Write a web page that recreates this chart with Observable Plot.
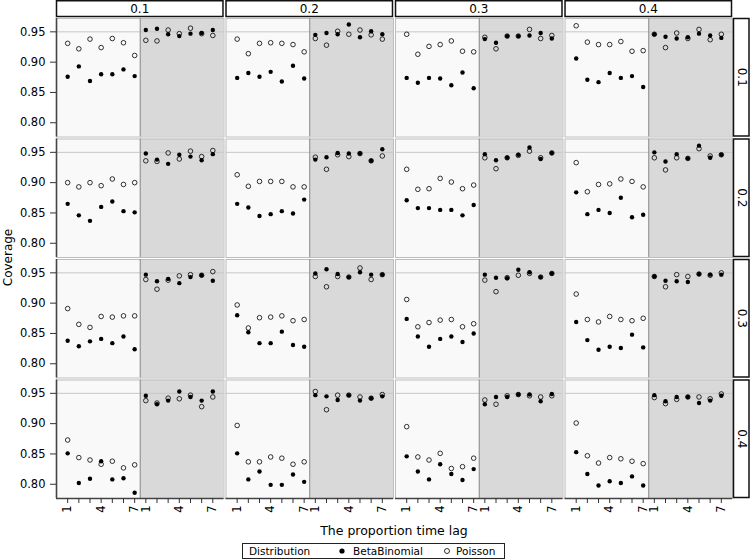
<!DOCTYPE html>
<html><head><meta charset="utf-8">
<script src="https://cdn.jsdelivr.net/npm/d3@7"></script>
<script src="https://cdn.jsdelivr.net/npm/@observablehq/plot@0.6"></script>
<style>
body{margin:0;background:#fff;font-family:"DejaVu Sans",sans-serif;}
#wrap{position:relative;width:750px;height:560px;}
#legend{position:absolute;left:242px;top:543px;width:263px;height:16px;box-sizing:border-box;border:1px solid #222;font-size:10.5px;white-space:nowrap;}
#legend span{position:absolute;top:0;line-height:14px;}
</style></head><body><div id="wrap"></div>
<script>
const lags = [1,2,3,4,5,6,7];
const colLevels = ["0.1","0.2","0.3","0.4"];
const rowLevels = ["0.1","0.2","0.3","0.4"];
const periods = ["first","second"];
const seriesNames = ["BetaBinomial","Poisson"];
const yTicks = [0.80,0.85,0.90,0.95];
const xTickLabels = ["1","","","4","","","7","1","","","4","","","7"];
const reference = 0.95;

// each row array: [col0.1 first, col0.1 second, col0.2 first, col0.2 second, ...]
const bbRow1 = [
 [0.876,0.893,0.869,0.880,0.880,0.888,0.877],[0.953,0.955,0.946,0.943,0.947,0.948,0.953],
 [0.874,0.882,0.876,0.884,0.868,0.894,0.873],[0.945,0.948,0.946,0.962,0.941,0.951,0.946],
 [0.874,0.866,0.874,0.873,0.862,0.883,0.857],[0.938,0.932,0.943,0.943,0.944,0.948,0.939],
 [0.906,0.871,0.867,0.882,0.874,0.877,0.859],[0.946,0.942,0.939,0.941,0.947,0.944,0.940]
];
const poRow1 = [
 [0.931,0.922,0.938,0.924,0.939,0.932,0.911],[0.936,0.935,0.953,0.947,0.956,0.947,0.944],
 [0.938,0.914,0.931,0.932,0.931,0.929,0.917],[0.939,0.928,0.951,0.946,0.953,0.945,0.938],
 [0.946,0.913,0.926,0.929,0.935,0.918,0.917],[0.941,0.922,0.943,0.943,0.954,0.939,0.944],
 [0.960,0.933,0.929,0.929,0.934,0.918,0.919],[0.946,0.924,0.948,0.939,0.954,0.937,0.946]
];
const bbRow2 = [
 [0.865,0.846,0.837,0.860,0.869,0.853,0.851],[0.948,0.938,0.931,0.946,0.943,0.937,0.947],
 [0.865,0.859,0.845,0.848,0.853,0.849,0.872],[0.938,0.942,0.949,0.948,0.948,0.936,0.955],
 [0.871,0.858,0.858,0.855,0.855,0.846,0.863],[0.947,0.937,0.941,0.946,0.958,0.939,0.949],
 [0.884,0.848,0.855,0.850,0.875,0.843,0.847],[0.950,0.935,0.947,0.940,0.961,0.941,0.946]
];
const poRow2 = [
 [0.900,0.893,0.900,0.895,0.906,0.897,0.900],[0.936,0.935,0.949,0.939,0.952,0.943,0.953],
 [0.913,0.894,0.902,0.902,0.902,0.893,0.893],[0.942,0.922,0.946,0.943,0.948,0.936,0.944],
 [0.922,0.889,0.890,0.907,0.901,0.890,0.896],[0.941,0.923,0.941,0.945,0.952,0.941,0.949],
 [0.933,0.885,0.897,0.898,0.906,0.902,0.893],[0.941,0.921,0.941,0.940,0.956,0.944,0.946]
];
const bbRow3 = [
 [0.838,0.829,0.837,0.841,0.834,0.845,0.824],[0.947,0.936,0.940,0.933,0.943,0.946,0.937],
 [0.880,0.852,0.834,0.834,0.853,0.831,0.828],[0.949,0.956,0.948,0.943,0.951,0.947,0.947],
 [0.874,0.845,0.828,0.841,0.845,0.836,0.850],[0.947,0.942,0.941,0.955,0.951,0.943,0.949],
 [0.869,0.839,0.823,0.828,0.826,0.848,0.827],[0.944,0.937,0.936,0.935,0.948,0.947,0.947]
];
const poRow3 = [
 [0.891,0.865,0.860,0.878,0.877,0.879,0.879],[0.939,0.923,0.938,0.945,0.947,0.946,0.952],
 [0.897,0.859,0.876,0.877,0.879,0.871,0.873],[0.944,0.927,0.944,0.943,0.958,0.939,0.947],
 [0.906,0.861,0.868,0.872,0.873,0.861,0.866],[0.938,0.919,0.942,0.946,0.949,0.943,0.949],
 [0.915,0.873,0.869,0.878,0.873,0.871,0.875],[0.944,0.927,0.947,0.944,0.948,0.946,0.950]
];
const bbRow4 = [
 [0.851,0.802,0.809,0.838,0.808,0.810,0.786],[0.946,0.932,0.938,0.953,0.944,0.938,0.953],
 [0.851,0.808,0.821,0.799,0.799,0.816,0.804],[0.947,0.945,0.939,0.947,0.938,0.942,0.945],
 [0.846,0.821,0.808,0.833,0.817,0.807,0.825],[0.932,0.944,0.944,0.948,0.948,0.937,0.949],
 [0.853,0.817,0.798,0.805,0.802,0.813,0.798],[0.947,0.937,0.944,0.944,0.934,0.938,0.946]
];
const poRow4 = [
 [0.873,0.844,0.840,0.833,0.838,0.827,0.832],[0.938,0.934,0.942,0.941,0.947,0.928,0.944],
 [0.897,0.837,0.837,0.845,0.843,0.833,0.837],[0.953,0.923,0.947,0.947,0.944,0.942,0.948],
 [0.895,0.845,0.840,0.851,0.826,0.829,0.843],[0.939,0.932,0.946,0.948,0.946,0.944,0.946],
 [0.901,0.847,0.835,0.844,0.842,0.838,0.834],[0.943,0.933,0.940,0.944,0.944,0.941,0.949]
];

const bbRows = [bbRow1,bbRow2,bbRow3,bbRow4];
const poRows = [poRow1,poRow2,poRow3,poRow4];
const nPos = lags.length * periods.length;
const xDomain = [0, nPos + 1];
const split = lags.length + 0.5;
const yDomain = [0.7765, 0.972];

const data = [];
const panels = [];
rowLevels.forEach((r, ri) => colLevels.forEach((c, ci) => periods.forEach((p, pi) => {
  panels.push({row:r, col:c, period:p, x1: pi ? split : xDomain[0], x2: pi ? xDomain[1] : split});
  lags.forEach((lag, li) => {
    const pos = lag + pi * lags.length;
    data.push({row:r, col:c, pos, dist:seriesNames[0], value: bbRows[ri][ci*2+pi][li]});
    data.push({row:r, col:c, pos, dist:seriesNames[1], value: poRows[ri][ci*2+pi][li]});
  });
})));

const plot = Plot.plot({
  width:750, height:541,
  marginLeft:56, marginRight:18, marginTop:18, marginBottom:43,
  style:{fontFamily:"DejaVu Sans", fontSize:"11.5px", color:"#000", background:"white"},
  fx:{domain:colLevels, paddingInner:0.012, paddingOuter:0, round:false, axis:null},
  fy:{domain:rowLevels, paddingInner:0.0166, paddingOuter:0, round:false, axis:null},
  x:{domain:xDomain, axis:null},
  y:{domain:yDomain, axis:null},
  marks:[
    Plot.rect(panels, {fx:"col", fy:"row", x1:"x1", x2:"x2", fill: d => d.period === periods[0] ? "#f9f9f9" : "#d9d9d9"}),
    Plot.frame({stroke:"#bdbdbd"}),
    Plot.ruleY([reference], {stroke:"#c6c6c6", strokeWidth:1}),
    Plot.ruleX([split], {stroke:"#8c8c8c", strokeWidth:1}),
    Plot.dot(data, {filter: d => d.dist === seriesNames[0], fx:"col", fy:"row", x:"pos", y:"value", r:2.2, fill:"black", stroke:"none"}),
    Plot.dot(data, {filter: d => d.dist === seriesNames[1], fx:"col", fy:"row", x:"pos", y:"value", r:2.3, fill:"none", stroke:"black", strokeWidth:0.8}),
    Plot.ruleX([xDomain[0]], {facetAnchor:"left", stroke:"#444", strokeWidth:1.6}),
    Plot.ruleY([yDomain[0]], {facetAnchor:"bottom", stroke:"#444", strokeWidth:1.6}),
    Plot.axisY({ticks:yTicks, tickFormat:d3.format(".2f"), tickSize:6, tickPadding:5, label:null, stroke:"#333"}),
    Plot.axisX({ticks:d3.range(1, nPos + 1), tickFormat: d => xTickLabels[d - 1], tickSize:5, tickPadding:2, tickRotate:-90, label:null, stroke:"#333"})
  ]
});

const svg = d3.select(plot);
const fxs = plot.scale("fx"), fys = plot.scale("fy");
const g = svg.append("g");
colLevels.forEach(c => {
  const x0 = fxs.apply(c);
  g.append("rect").attr("x", x0 + 0.5).attr("y", 0.75).attr("width", fxs.bandwidth - 1).attr("height", 15.75)
    .attr("fill", "white").attr("stroke", "#111").attr("stroke-width", 1.5);
  g.append("text").attr("x", x0 + fxs.bandwidth / 2).attr("y", 9).attr("text-anchor", "middle")
    .attr("dominant-baseline", "central").attr("font-size", "12px").text(c);
});
rowLevels.forEach(r => {
  const y0 = fys.apply(r);
  g.append("rect").attr("x", 733.5).attr("y", y0 + 0.5).attr("width", 15.5).attr("height", fys.bandwidth - 1)
    .attr("fill", "white").attr("stroke", "#111").attr("stroke-width", 1.5);
  g.append("text").attr("transform", `translate(741.5,${y0 + fys.bandwidth / 2}) rotate(90)`)
    .attr("text-anchor", "middle").attr("dominant-baseline", "central").attr("font-size", "12px").text(r);
});
svg.append("text").attr("transform", "translate(12,257.5) rotate(-90)").attr("text-anchor", "middle")
  .attr("font-size", "12px").text("Coverage");
svg.append("text").attr("x", 394).attr("y", 535).attr("text-anchor", "middle")
  .attr("font-size", "12.5px").text("The proportion time lag");

const wrap = document.getElementById("wrap");
wrap.appendChild(plot);
const legend = document.createElement("div");
legend.id = "legend";
legend.innerHTML =
  `<span style="left:6px">Distribution</span>` +
  `<svg style="position:absolute;left:94px;top:2px" width="10" height="10"><circle cx="5" cy="5" r="2.6" fill="black"/></svg>` +
  `<span style="left:110px">${seriesNames[0]}</span>` +
  `<svg style="position:absolute;left:199px;top:2px" width="10" height="10"><circle cx="5" cy="5" r="2.5" fill="none" stroke="black" stroke-width="0.8"/></svg>` +
  `<span style="left:213px">${seriesNames[1]}</span>`;
wrap.appendChild(legend);
</script></body></html>
